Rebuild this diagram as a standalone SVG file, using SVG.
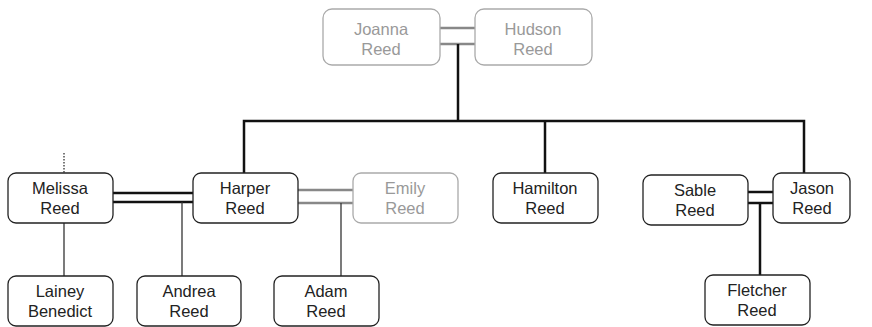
<svg xmlns="http://www.w3.org/2000/svg" width="872" height="327" viewBox="0 0 872 327">
<style>
.box{fill:#fff;stroke:#222;stroke-width:1.3}
.gbox{fill:#fff;stroke:#aaa;stroke-width:1.3}
text{font-family:"Liberation Sans",Arial,sans-serif;font-size:16.5px;text-anchor:middle;fill:#222}
.g text{fill:#999}
.c{stroke:#111;stroke-width:2.5;fill:none}
.cg{stroke:#888;stroke-width:2.5;fill:none}
.thin{stroke:#333;stroke-width:1.3;fill:none}
</style>
<g id="connectors">
<line class="cg" x1="440" y1="28" x2="475" y2="28"/>
<line class="cg" x1="440" y1="44" x2="475" y2="44"/>
<polyline class="c" points="458,44 458,121"/>
<polyline class="c" points="244,173 244,121 804,121 804,173"/>
<line class="c" x1="545" y1="121" x2="545" y2="173"/>
<line class="c" x1="113" y1="193" x2="193" y2="193"/>
<line class="c" x1="113" y1="202" x2="193" y2="202"/>
<line class="thin" x1="182" y1="202" x2="182" y2="276"/>
<line class="cg" x1="298" y1="190" x2="353" y2="190"/>
<line class="cg" x1="298" y1="203" x2="353" y2="203"/>
<line class="thin" x1="341" y1="203" x2="341" y2="276"/>
<line class="thin" x1="64" y1="223" x2="64" y2="276"/>
<line x1="64" y1="153" x2="64" y2="173" stroke="#333" stroke-width="1.3" stroke-dasharray="1.5,1.5"/>
<line class="c" x1="748" y1="192" x2="773" y2="192"/>
<line class="c" x1="748" y1="203" x2="773" y2="203"/>
<line class="c" x1="760" y1="203" x2="760" y2="275"/>
</g>
<g id="joanna" class="g"><rect class="gbox" x="323" y="9" width="117" height="56" rx="9"/><text x="381" y="35">Joanna</text><text x="381" y="55">Reed</text></g>
<g id="hudson" class="g"><rect class="gbox" x="475" y="9" width="117" height="56" rx="9"/><text x="533" y="35">Hudson</text><text x="533" y="55">Reed</text></g>
<g id="melissa"><rect class="box" x="8" y="173" width="105" height="50" rx="8"/><text x="60" y="194">Melissa</text><text x="60" y="214">Reed</text></g>
<g id="harper"><rect class="box" x="193" y="173" width="105" height="50" rx="8"/><text x="245" y="194">Harper</text><text x="245" y="214">Reed</text></g>
<g id="emily" class="g"><rect class="gbox" x="353" y="173" width="105" height="50" rx="8"/><text x="405" y="194">Emily</text><text x="405" y="214">Reed</text></g>
<g id="hamilton"><rect class="box" x="493" y="173" width="105" height="50" rx="8"/><text x="545" y="194">Hamilton</text><text x="545" y="214">Reed</text></g>
<g id="sable"><rect class="box" x="643" y="175" width="105" height="50" rx="8"/><text x="695" y="196">Sable</text><text x="695" y="216">Reed</text></g>
<g id="jason"><rect class="box" x="773" y="173" width="77" height="50" rx="8"/><text x="812" y="194">Jason</text><text x="812" y="214">Reed</text></g>
<g id="lainey"><rect class="box" x="8" y="276" width="105" height="50" rx="8"/><text x="60" y="297">Lainey</text><text x="60" y="317">Benedict</text></g>
<g id="andrea"><rect class="box" x="137" y="276" width="104" height="50" rx="8"/><text x="189" y="297">Andrea</text><text x="189" y="317">Reed</text></g>
<g id="adam"><rect class="box" x="274" y="276" width="105" height="50" rx="8"/><text x="326" y="297">Adam</text><text x="326" y="317">Reed</text></g>
<g id="fletcher"><rect class="box" x="705" y="275" width="105" height="50" rx="8"/><text x="757" y="296">Fletcher</text><text x="757" y="316">Reed</text></g>
</svg>
